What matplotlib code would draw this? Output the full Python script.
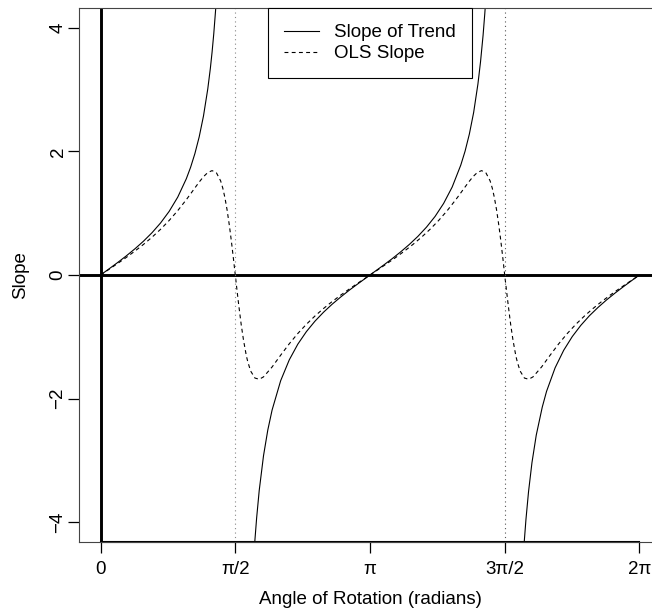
"""Slope of trend vs OLS slope as the data cloud is rotated."""
import matplotlib.pyplot as plt
from matplotlib.lines import Line2D
import numpy as np

plt.rcParams["font.family"] = ["Liberation Sans", "DejaVu Sans"]

# slope of the trend line (three branches between the asymptotes)
trend_theta_1 = [0, 0.1, 0.2, 0.3, 0.4, 0.5, 0.6, 0.7, 0.8, 0.9, 1.0, 1.05, 1.1,
                 1.15, 1.2, 1.25, 1.28, 1.30, 1.32, 1.34, 1.35]
trend_slope_1 = [0, 0.1003, 0.2027, 0.3093, 0.4228, 0.5463, 0.6841, 0.8423, 1.0296,
                 1.2602, 1.5574, 1.7433, 1.9648, 2.2345, 2.5722, 3.0096, 3.3413,
                 3.6021, 3.9033, 4.2615, 4.4552]
trend_theta_2 = [1.79, 1.80, 1.82, 1.85, 1.90, 1.95, 2.0, 2.1, 2.2, 2.3, 2.4, 2.5, 2.6,
                 2.7, 2.8, 2.9, 3.0, 3.1, 3.1416, 3.2, 3.3, 3.4, 3.5, 3.6, 3.7, 3.8,
                 3.9, 4.0, 4.1, 4.2, 4.25, 4.3, 4.35, 4.4, 4.43, 4.46, 4.48, 4.49]
trend_slope_2 = [-4.488, -4.284, -3.928, -3.485, -2.924, -2.508, -2.185, -1.710, -1.374,
                 -1.119, -0.916, -0.747, -0.602, -0.473, -0.356, -0.246, -0.143, -0.042,
                 0, 0.059, 0.160, 0.264, 0.375, 0.494, 0.625, 0.774, 0.947, 1.158,
                 1.424, 1.778, 2.003, 2.280, 2.629, 3.091, 3.446, 3.878, 4.229, 4.428]
trend_theta_3 = [4.93, 4.94, 4.96, 4.99, 5.03, 5.08, 5.15, 5.2, 5.3, 5.4, 5.5, 5.6, 5.7,
                 5.8, 5.9, 6.0, 6.1, 6.2, 6.2832]
trend_slope_3 = [-4.522, -4.316, -3.954, -3.506, -3.036, -2.591, -2.138, -1.883, -1.501,
                 -1.218, -0.996, -0.814, -0.659, -0.525, -0.403, -0.291, -0.185, -0.083, 0]

# OLS slope
ols_theta = [0, 0.1, 0.2, 0.3, 0.4, 0.5, 0.6, 0.7, 0.8, 0.9, 1.0, 1.05, 1.1, 1.15, 1.2,
             1.25, 1.3, 1.35, 1.4, 1.425, 1.45, 1.475, 1.5, 1.515, 1.53, 1.55, 1.571,
             1.59, 1.61, 1.627, 1.64, 1.667, 1.7, 1.717, 1.75, 1.8, 1.85, 1.9, 2.0, 2.1,
             2.2, 2.3, 2.4, 2.5, 2.6, 2.7, 2.8, 2.9, 3.0, 3.1,
             3.142, 3.242, 3.342, 3.442, 3.542, 3.642, 3.742, 3.842, 3.942, 4.042, 4.142,
             4.192, 4.242, 4.292, 4.342, 4.392, 4.442, 4.492, 4.542, 4.567, 4.592, 4.617,
             4.642, 4.657, 4.672, 4.692, 4.712, 4.732, 4.752, 4.769, 4.782, 4.809, 4.842,
             4.859, 4.892, 4.942, 4.992, 5.042, 5.142, 5.242, 5.342, 5.442, 5.542, 5.642,
             5.742, 5.842, 5.942, 6.042, 6.142, 6.242, 6.283]
ols_slope = [0, 0.0926, 0.1869, 0.2841, 0.3859, 0.4943, 0.6113, 0.7398, 0.8823, 1.0416,
             1.2189, 1.3133, 1.4094, 1.5038, 1.5902, 1.6578, 1.6887, 1.6560, 1.5231,
             1.4065, 1.2513, 1.0558, 0.8197, 0.6615, 0.4925, 0.2550, 0, -0.2358, -0.4740,
             -0.6615, -0.8032, -1.0558, -1.3081, -1.4065, -1.5541, -1.6674, -1.6870,
             -1.6484, -1.4882, -1.2973, -1.1133, -0.9462, -0.7972, -0.6632, -0.5418,
             -0.4300, -0.3259, -0.2269, -0.1316, -0.0385,
             0, 0.0926, 0.1869, 0.2841, 0.3859, 0.4943, 0.6113, 0.7398, 0.8823, 1.0416,
             1.2189, 1.3133, 1.4094, 1.5038, 1.5902, 1.6578, 1.6887, 1.6560, 1.5231,
             1.4065, 1.2513, 1.0558, 0.8197, 0.6615, 0.4925, 0.2550, 0, -0.2358, -0.4740,
             -0.6615, -0.8032, -1.0558, -1.3081, -1.4065, -1.5541, -1.6674, -1.6870,
             -1.6484, -1.4882, -1.2973, -1.1133, -0.9462, -0.7972, -0.6632, -0.5418,
             -0.4300, -0.3259, -0.2269, -0.1316, -0.0385, 0]

x_ticks = [0, np.pi / 2, np.pi, 3 * np.pi / 2, 2 * np.pi]
x_labels = ["0", "π/2", "π", "3π/2", "2π"]
y_ticks = [-4, -2, 0, 2, 4]
asymptotes = [np.pi / 2, 3 * np.pi / 2]

fig = plt.figure(figsize=(6.52, 6.16), dpi=100)
ax = fig.add_axes([79 / 652, 1 - 542 / 616, (661 - 79) / 652, (542 - 8) / 616])
ax.set_xlim(-0.04 * 2 * np.pi, 1.04 * 2 * np.pi)
ax.set_ylim(-4.32, 4.32)

dash = (0, (3.5, 3.0))
for th, sl in ((trend_theta_1, trend_slope_1), (trend_theta_2, trend_slope_2),
               (trend_theta_3, trend_slope_3)):
    ax.plot(th, sl, color="black", lw=0.8)
ax.plot(ols_theta, ols_slope, color="black", lw=0.8, linestyle=dash)

ax.axhline(0, color="black", lw=2.1)
ax.axvline(0, color="black", lw=2.1)
ax.axvline(asymptotes[0], color="#888888", lw=0.8, linestyle=(0, (1, 3)))
ax.axvline(asymptotes[1], color="#555555", lw=0.8, linestyle=(0, (1, 3)))

for s in ax.spines.values():
    s.set_color("#444444")
    s.set_linewidth(0.8)
ax.plot([0, 2 * np.pi], [-4.32, -4.32], color="black", lw=1.5, clip_on=False)

ax.set_xticks(x_ticks, x_labels)
ax.set_yticks(y_ticks)
ax.tick_params(axis="both", direction="out", length=8, width=0.9, color="black",
               labelsize=13.5)
ax.tick_params(axis="x", pad=6)
ax.tick_params(axis="y", pad=1)
for lab in ax.get_yticklabels():
    lab.set_rotation(90)
    lab.set_va("center")

ax.set_xlabel("Angle of Rotation (radians)", fontsize=13.5, va="center")
ax.xaxis.set_label_coords(0.5, (542 - 600) / 534)
ax.set_ylabel("Slope", fontsize=13.5, va="center")
ax.yaxis.set_label_coords((21 - 79) / 582, 0.5)

handles = [Line2D([], [], color="black", lw=0.8),
           Line2D([], [], color="black", lw=0.8, linestyle=dash)]
leg = ax.legend(handles, ["Slope of Trend", "OLS Slope"], loc="upper center",
                bbox_to_anchor=(0.5, 1.0), fontsize=13.5, frameon=True, fancybox=False,
                edgecolor="black", framealpha=1, borderaxespad=0, borderpad=0.85,
                handlelength=1.9, handletextpad=0.8, labelspacing=0.22)
leg.get_frame().set_linewidth(0.8)

fig.savefig("out.png", dpi=100, facecolor="white")
